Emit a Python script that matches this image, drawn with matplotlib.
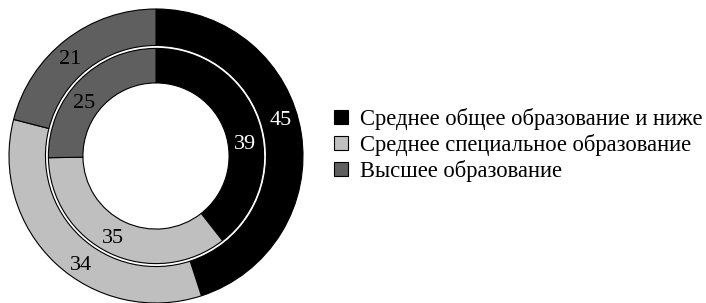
import numpy as np
import matplotlib
matplotlib.use("Agg")
import matplotlib.pyplot as plt
from matplotlib.transforms import offset_copy

categories = ["Среднее общее образование и ниже",
              "Среднее специальное образование",
              "Высшее образование"]
outer_values = [45, 34, 21]
inner_values = [39, 35, 25]
colors = ["#000000", "#bfbfbf", "#5f5f5f"]
outer_label_colors = ["white", "black", "black"]
inner_label_colors = ["white", "black", "black"]
# small angular nudges (degrees) for label placement
outer_label_shift = [8, 8, 3]
inner_label_shift = [-10, -3, 7]

plt.rcParams['font.family'] = ['Liberation Serif', 'DejaVu Serif']

W, H = 706, 303
fig = plt.figure(figsize=(W / 100, H / 100), dpi=100)
cx, cy, R = 156, 156, 147
ax = fig.add_axes([(cx - R) / W, (H - cy - R) / H, 2 * R / W, 2 * R / H])
ax.set_aspect('equal')
ax.axis('off')

r_out, w_out = 1.0, 0.248
r_in, w_in = 0.732, 0.235

wk = dict(edgecolor='black', linewidth=0.8)
ow, _ = ax.pie(outer_values, radius=r_out, colors=colors, startangle=90,
               counterclock=False, wedgeprops=dict(width=w_out, **wk))
iw, _ = ax.pie(inner_values, radius=r_in, colors=colors, startangle=90,
               counterclock=False, wedgeprops=dict(width=w_in, **wk))
ax.set_xlim(-1, 1)
ax.set_ylim(-1, 1)

tr = offset_copy(ax.transData, fig=fig, x=0, y=-3, units='dots')

def label(wedges, values, lcolors, shifts, rad):
    for w, v, c, s in zip(wedges, values, lcolors, shifts):
        ang = np.deg2rad((w.theta1 + w.theta2) / 2 + s)
        ax.text(rad * np.cos(ang), rad * np.sin(ang), str(v), ha='center',
                va='center', color=c, fontsize=16, transform=tr)

label(ow, outer_values, outer_label_colors, outer_label_shift, 0.89)
label(iw, inner_values, inner_label_colors, inner_label_shift, 0.615)

handles = [plt.Rectangle((0, 0), 1, 1, facecolor=c, edgecolor='black', linewidth=0.8)
           for c in colors]
fig.legend(handles, categories, loc='center left',
           bbox_to_anchor=(334 / W, 1 - 145 / H), frameon=False,
           fontsize=16.3, handlelength=0.62, handleheight=0.62,
           handletextpad=0.55, labelspacing=0.18, borderpad=0, borderaxespad=0)

fig.savefig("out.png", dpi=100)
